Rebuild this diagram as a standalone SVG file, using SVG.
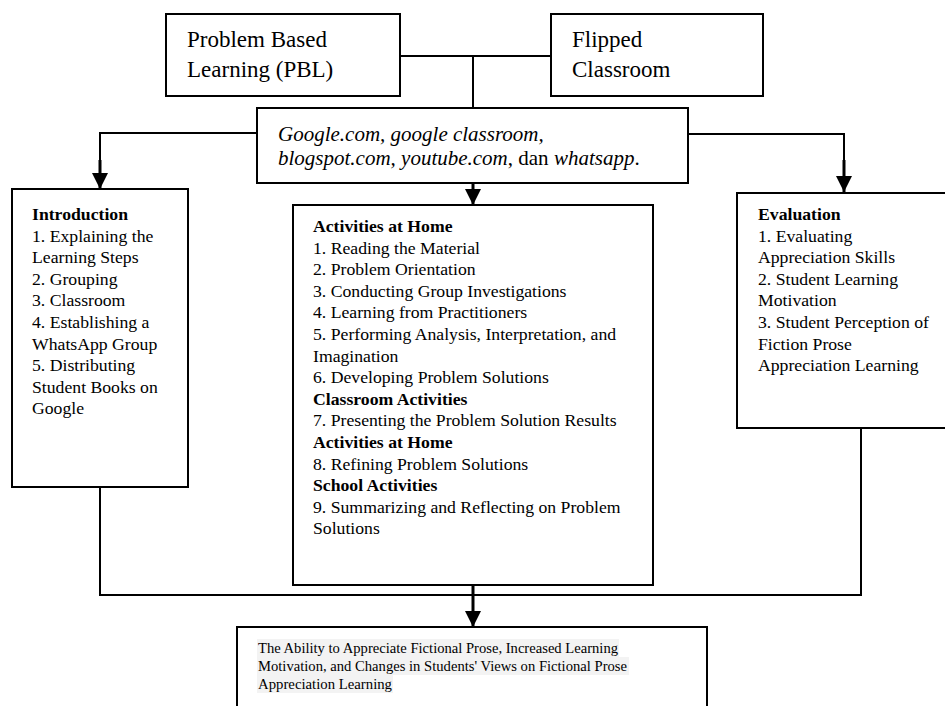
<svg xmlns="http://www.w3.org/2000/svg" width="945" height="706" viewBox="0 0 945 706">
<style>
.box{fill:#fff;stroke:#000;stroke-width:2}
.ln{fill:none;stroke:#000;stroke-width:2}
.ar{fill:none;stroke:#000;stroke-width:3}
.t{font-family:"Liberation Serif","Times New Roman",serif;fill:#000}
.big{font-size:23px}
.it{font-size:21px;font-style:italic}
.body{font-size:17.7px}
.b{font-weight:bold}
.sm{font-size:15px}
.hl{fill:#f3f3f3}
</style>
<defs>
<marker id="ah" markerUnits="userSpaceOnUse" markerWidth="16" markerHeight="16" viewBox="0 0 16 16" refX="16" refY="8" orient="auto">
<path d="M0,0 L16,8 L0,16 z" fill="#000"/>
</marker>
</defs>
<rect width="945" height="706" fill="#fff"/>
<g id="connectors">
<line class="ln" x1="400" y1="56" x2="551" y2="56"/>
<line class="ln" x1="473" y1="56" x2="473" y2="108"/>
<path class="ln" d="M257,133 H100 V175"/>
<line class="ar" x1="100" y1="160" x2="100" y2="189" marker-end="url(#ah)"/>
<path class="ln" d="M688,134 H844 V175"/>
<line class="ar" x1="844" y1="160" x2="844" y2="192" marker-end="url(#ah)"/>
<line class="ar" x1="473" y1="183" x2="473" y2="205" marker-end="url(#ah)"/>
<path class="ln" d="M100,487 V595 H861 V428"/>
<line class="ar" x1="473" y1="585" x2="473" y2="627" marker-end="url(#ah)"/>
</g>
<g id="pbl">
<rect class="box" x="166" y="14" width="234" height="82"/>
<text class="t big" x="187" y="47">Problem Based</text>
<text class="t big" x="187" y="77">Learning (PBL)</text>
</g>
<g id="flipped">
<rect class="box" x="551" y="14" width="212" height="82"/>
<text class="t big" x="572" y="47">Flipped</text>
<text class="t big" x="572" y="77">Classroom</text>
</g>
<g id="tools">
<rect class="box" x="257" y="108" width="431" height="75"/>
<text class="t it" x="278" y="141">Google.com, google classroom,</text>
<text class="t it" x="278" y="165">blogspot.com, youtube.com<tspan font-style="normal">, dan </tspan>whatsapp<tspan font-style="normal">.</tspan></text>
</g>
<g id="introduction">
<rect class="box" x="12" y="189" width="176" height="298"/>
<text class="t body" x="32" y="220"><tspan class="b">Introduction</tspan><tspan x="32" dy="21.6">1. Explaining the</tspan><tspan x="32" dy="21.6">Learning Steps</tspan><tspan x="32" dy="21.6">2. Grouping</tspan><tspan x="32" dy="21.6">3. Classroom</tspan><tspan x="32" dy="21.6">4. Establishing a</tspan><tspan x="32" dy="21.6">WhatsApp Group</tspan><tspan x="32" dy="21.6">5. Distributing</tspan><tspan x="32" dy="21.6">Student Books on</tspan><tspan x="32" dy="21.6">Google</tspan></text>
</g>
<g id="activities">
<rect class="box" x="293" y="205" width="360" height="380"/>
<text class="t body" x="313" y="232"><tspan class="b">Activities at Home</tspan><tspan x="313" dy="21.6">1. Reading the Material</tspan><tspan x="313" dy="21.6">2. Problem Orientation</tspan><tspan x="313" dy="21.6">3. Conducting Group Investigations</tspan><tspan x="313" dy="21.6">4. Learning from Practitioners</tspan><tspan x="313" dy="21.6">5. Performing Analysis, Interpretation, and</tspan><tspan x="313" dy="21.6">Imagination</tspan><tspan x="313" dy="21.6">6. Developing Problem Solutions</tspan><tspan x="313" dy="21.6" class="b">Classroom Activities</tspan><tspan x="313" dy="21.6">7. Presenting the Problem Solution Results</tspan><tspan x="313" dy="21.6" class="b">Activities at Home</tspan><tspan x="313" dy="21.6">8. Refining Problem Solutions</tspan><tspan x="313" dy="21.6" class="b">School Activities</tspan><tspan x="313" dy="21.6">9. Summarizing and Reflecting on Problem</tspan><tspan x="313" dy="21.6">Solutions</tspan></text>
</g>
<g id="evaluation">
<rect class="box" x="737" y="193" width="212" height="235"/>
<text class="t body" x="758" y="220"><tspan class="b">Evaluation</tspan><tspan x="758" dy="21.6">1. Evaluating</tspan><tspan x="758" dy="21.6">Appreciation Skills</tspan><tspan x="758" dy="21.6">2. Student Learning</tspan><tspan x="758" dy="21.6">Motivation</tspan><tspan x="758" dy="21.6">3. Student Perception of</tspan><tspan x="758" dy="21.6">Fiction Prose</tspan><tspan x="758" dy="21.6">Appreciation Learning</tspan></text>
</g>
<g id="outcome">
<rect class="box" x="237" y="627" width="470" height="90"/>
<rect class="hl" x="257" y="639" width="362" height="18"/>
<rect class="hl" x="257" y="657" width="372" height="18"/>
<rect class="hl" x="257" y="675" width="136" height="18"/>
<text class="t sm" x="258" y="653" textLength="360" lengthAdjust="spacingAndGlyphs">The Ability to Appreciate Fictional Prose, Increased Learning</text>
<text class="t sm" x="258" y="671" textLength="369" lengthAdjust="spacingAndGlyphs">Motivation, and Changes in Students' Views on Fictional Prose</text>
<text class="t sm" x="258" y="689" textLength="134" lengthAdjust="spacingAndGlyphs">Appreciation Learning</text>
</g>
</svg>
